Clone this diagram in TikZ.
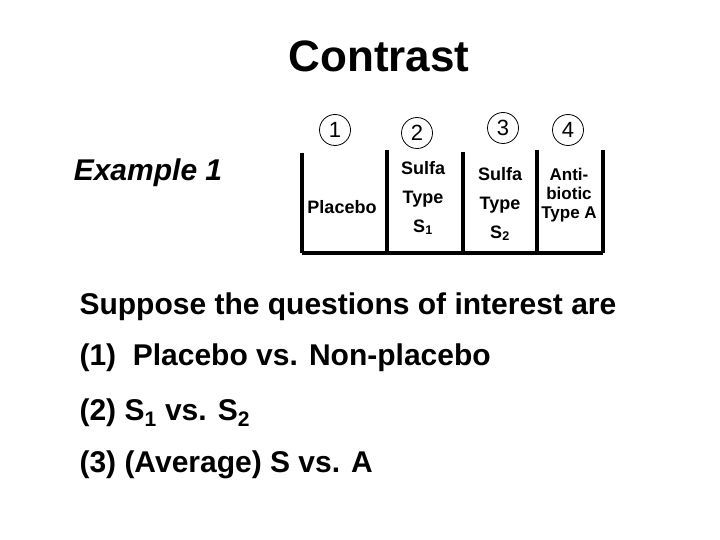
\documentclass[tikz,border=0pt]{standalone}
\usepackage{fontspec}
\setmainfont{Liberation Sans}
\usetikzlibrary{positioning}
\tikzset{
  num/.style={circle, draw, thick, minimum size=31pt, inner sep=0pt, font=\fontsize{22}{22}\selectfont},
  cell/.style={align=center, font=\bfseries\fontsize{18}{29}\selectfont},
  line/.style={anchor=west, font=\bfseries\fontsize{30}{30}\selectfont},
  wall/.style={line width=3.5pt}
}
\begin{document}
\begin{tikzpicture}[x=1pt, y=-1pt]
\useasboundingbox (0,0) rectangle (720,540);

% Title and example
\node[font=\bfseries\fontsize{44}{44}\selectfont] (title) at (379,56) {Contrast};
\node[font=\bfseries\itshape\fontsize{30}{30}\selectfont] (ex) at (148,173) {Example 1};

% Circled numbers
\node[num] (n1) at (335,130) {1};
\node[num] (n2) at (417,133) {2};
\node[num] (n3) at (503,128) {3};
\node[num] (n4) at (568,130) {4};

% Walls of the table
\coordinate (b1) at (302,253); \coordinate (t1) at (302,153);
\coordinate (b2) at (387,253); \coordinate (t2) at (387,150);
\coordinate (b3) at (463,253); \coordinate (t3) at (463,152);
\coordinate (b4) at (537,253); \coordinate (t4) at (537,150);
\coordinate (b5) at (603,253); \coordinate (t5) at (603,150);
\draw[wall] (t1) -- (b1);
\draw[wall] (t2) -- (b2);
\draw[wall] (t3) -- (b3);
\draw[wall] (t4) -- (b4);
\draw[wall] (t5) -- (b5);
\draw[wall] (b1) -- (b5);

% Cells
\node[cell] (c1) at (342,207) {Placebo};
\node[cell] (c2) at (423,198) {Sulfa\\Type\\S\textsubscript{1}};
\node[cell] (c3) at (500,204) {Sulfa\\Type\\S\textsubscript{2}};
\node[cell, font=\bfseries\fontsize{17}{19}\selectfont] (c4) at (569,195) {Anti-\\biotic\\Type A};

% Questions
\node[line] (q0) at (76,307) {Suppose the questions of interest are};
\node[line] (q1) at (76,358) {(1)\ \ Placebo vs. Non-placebo};
\node[line] (q2) at (76,413) {(2) S\textsubscript{1} vs. S\textsubscript{2}};
\node[line] (q3) at (76,465) {(3) (Average) S vs. A};
\end{tikzpicture}
\end{document}
